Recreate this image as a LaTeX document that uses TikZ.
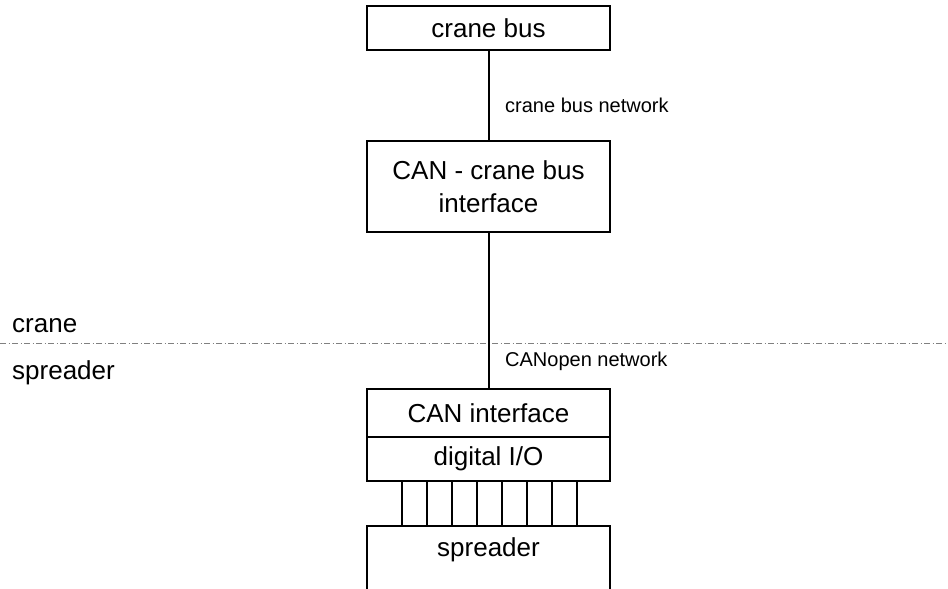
\documentclass[tikz,border=0pt]{standalone}
\usepackage{fontspec}
\setmainfont{Liberation Sans}
\begin{document}
\begin{tikzpicture}[x=1pt,y=-1pt,
  box/.style={draw, line width=2pt, minimum width=243pt, inner sep=0pt, outer sep=0pt,
    align=center, font=\fontsize{26}{33}\selectfont},
  link/.style={line width=2pt},
  netlabel/.style={font=\fontsize{20}{22}\selectfont, anchor=base west, inner sep=0pt},
  zonelabel/.style={font=\fontsize{26}{30}\selectfont, anchor=base west, inner sep=0pt},
  boundary/.style={draw=gray, line width=0.9pt, dash pattern=on 6pt off 2.5pt on 1pt off 2.5pt}]
\useasboundingbox (0,0) rectangle (948,589);

% crane / spreader boundary
\coordinate (bl) at (0,343);
\coordinate (br) at (948,343);
\draw[boundary] (bl) -- (br);
\node[zonelabel] (zcrane) at (12,332) {crane};
\node[zonelabel] (zspreader) at (12,379) {spreader};

% crane side
\node[box, minimum height=44pt] (bus) at (488.5,28) {crane bus};
\node[box, minimum height=91pt] (iface) at (488.5,186.5) {CAN - crane bus\\interface};

% spreader side
\node[box, minimum height=48pt] (can) at (488.5,413) {CAN interface};
\node[box, minimum height=44pt, anchor=north] (dio) at (can.south) {digital I/O};
\node[minimum width=243pt, minimum height=63pt, inner sep=0pt, outer sep=0pt, anchor=north] (spr) at (488.5,526) {};
\node[font=\fontsize{26}{30}\selectfont, inner sep=0pt] (sprtext) at (488.5,550) {spreader};
\draw[link] (spr.south west) -- (spr.north west) -- (spr.north east) -- (spr.south east);

% network links
\draw[link] (bus) -- (iface);
\draw[link] (iface) -- (can);
\node[netlabel] (busnet) at (505,112) {crane bus network};
\node[netlabel] (cannet) at (505,366) {CANopen network};

% digital I/O wires
\foreach \i in {0,...,7}
  \draw[link] ([xshift=35pt+25pt*\i]dio.south west) -- ([xshift=35pt+25pt*\i]dio.south west |- spr.north);
\end{tikzpicture}
\end{document}
